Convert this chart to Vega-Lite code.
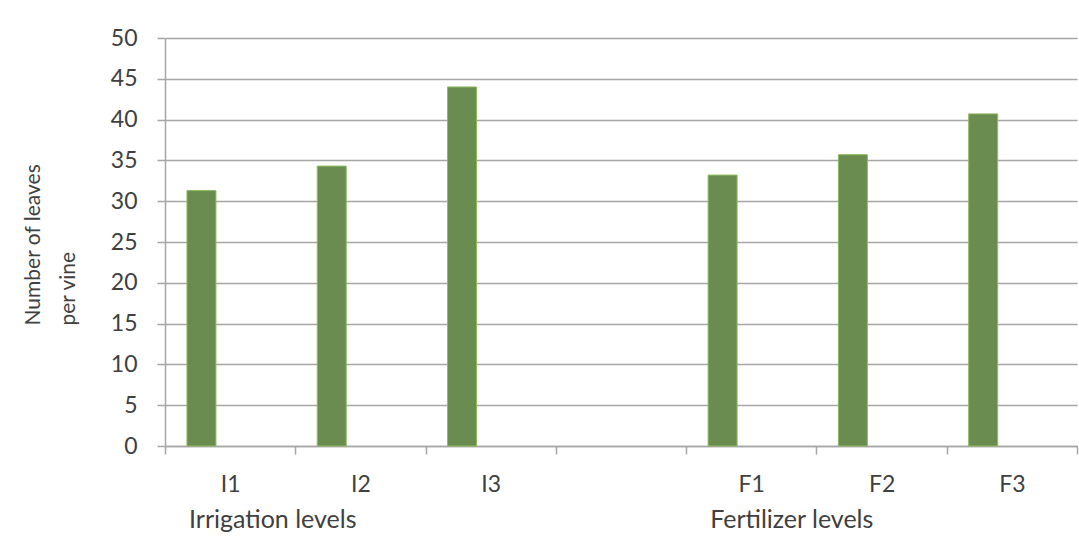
{
  "$schema": "https://vega.github.io/schema/vega-lite/v6.json",
  "width": 912,
  "height": 408,
  "autosize": {"type": "none"},
  "padding": {"left": 165, "top": 38, "right": 2, "bottom": 90},
  "background": "white",
  "config": {
    "view": {"stroke": null},
    "font": "Lato"
  },
  "datasets": {
    "leaves": [
      {"level": "I1", "series": "Leaves", "leaves": 31.3},
      {"level": "I2", "series": "Leaves", "leaves": 34.3},
      {"level": "I3", "series": "Leaves", "leaves": 44.0},
      {"level": "F1", "series": "Leaves", "leaves": 33.2},
      {"level": "F2", "series": "Leaves", "leaves": 35.7},
      {"level": "F3", "series": "Leaves", "leaves": 40.7}
    ],
    "groups": [
      {"first": "I1", "group": "Irrigation levels"},
      {"first": "F1", "group": "Fertilizer levels"}
    ]
  },
  "layer": [
    {
      "data": {"name": "leaves"},
      "mark": {"type": "bar", "fill": "#6a8c50", "stroke": "#8dbb5c", "strokeWidth": 1},
      "encoding": {
        "x": {
          "field": "level",
          "type": "nominal",
          "sort": null,
          "scale": {"domain": ["I1", "I2", "I3", " ", "F1", "F2", "F3"], "paddingInner": 0, "paddingOuter": 0},
          "axis": {
            "title": null,
            "tickBand": "extent",
            "labelAngle": 0,
            "domainColor": "#a6a6a6",
            "domainWidth": 1.5,
            "tickColor": "#a6a6a6",
            "tickWidth": 1.5,
            "tickSize": 8,
            "labelFontSize": 23,
            "labelColor": "#404040",
            "labelPadding": 19,
            "grid": false
          }
        },
        "xOffset": {
          "field": "series",
          "scale": {"domain": ["Leaves", "Other"], "paddingInner": 0.495, "paddingOuter": 0.383}
        },
        "y": {
          "field": "leaves",
          "type": "quantitative",
          "scale": {"domain": [0, 50], "nice": false},
          "axis": {
            "title": ["Number of leaves", "per vine"],
            "values": [0, 5, 10, 15, 20, 25, 30, 35, 40, 45, 50],
            "grid": true,
            "gridColor": "#a6a6a6",
            "gridWidth": 1.5,
            "domainColor": "#a6a6a6",
            "domainWidth": 1.5,
            "tickColor": "#a6a6a6",
            "tickWidth": 1.5,
            "tickSize": 8,
            "labelFontSize": 23,
            "labelPadding": 20,
            "labelColor": "#404040",
            "titleFontSize": 21,
            "titleFontWeight": "normal",
            "titleColor": "#404040",
            "titleAngle": -90,
            "titleAlign": "left",
            "titleBaseline": "top",
            "titleX": -143,
            "titleY": 287,
            "titleLineHeight": 35
          }
        }
      }
    },
    {
      "data": {"name": "groups"},
      "mark": {"type": "text", "align": "left", "baseline": "alphabetic", "dx": 24, "fontSize": 25, "color": "#404040", "clip": false},
      "encoding": {
        "x": {"field": "first", "type": "nominal", "bandPosition": 0},
        "y": {"datum": -10.1},
        "text": {"field": "group"}
      }
    }
  ]
}
